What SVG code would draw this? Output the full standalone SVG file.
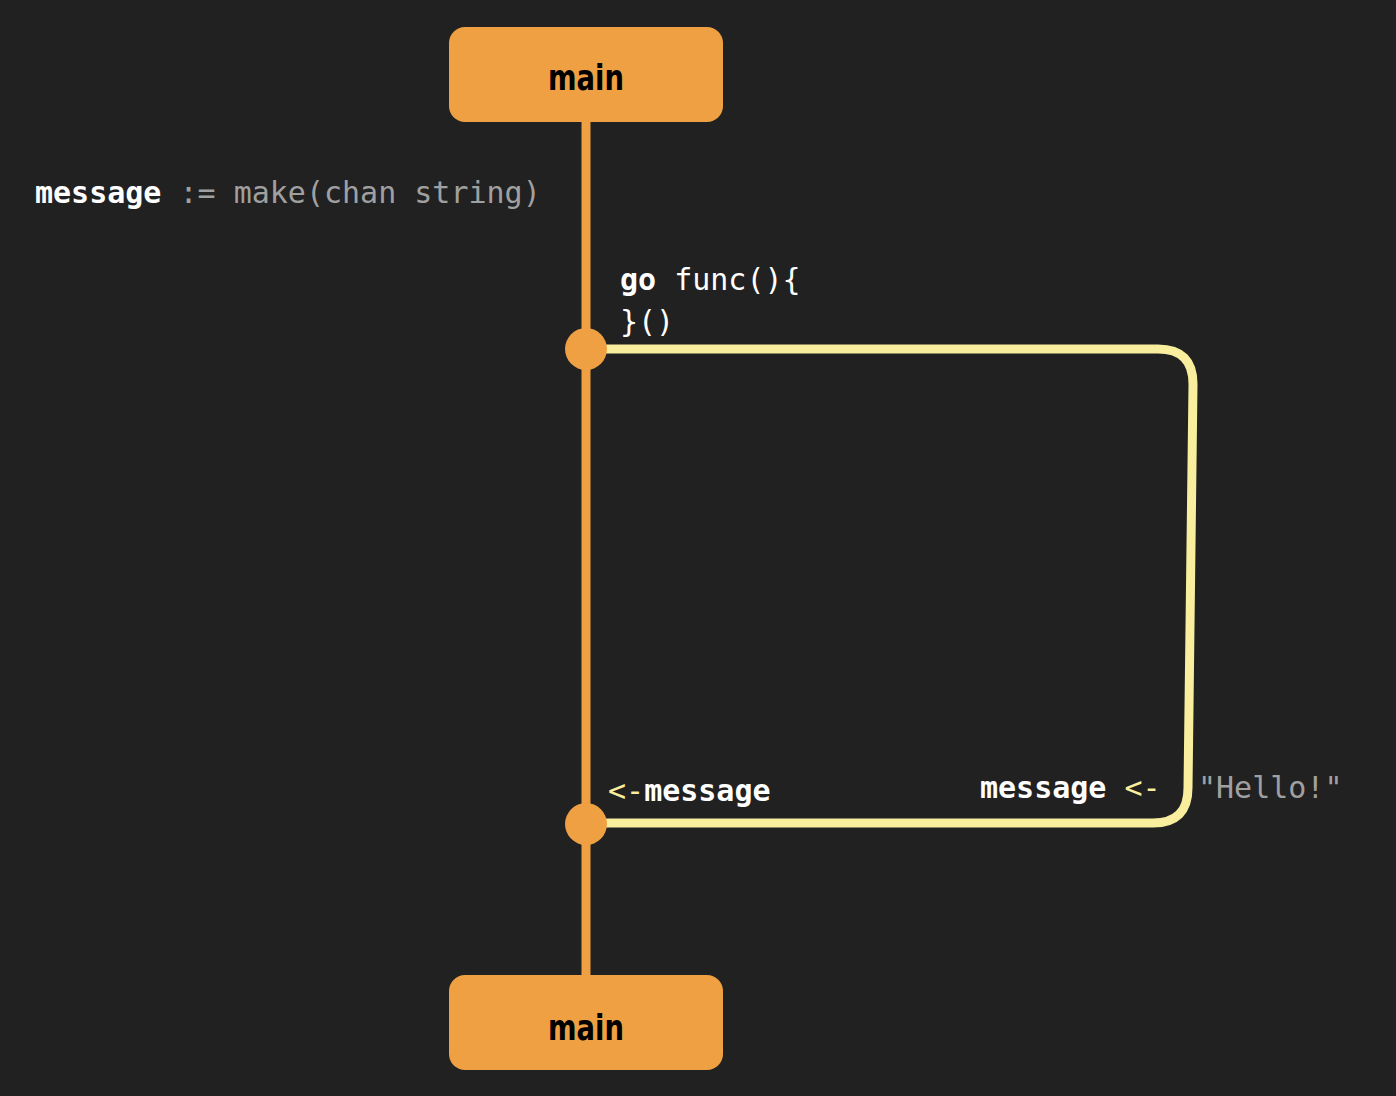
<svg xmlns="http://www.w3.org/2000/svg" width="1396" height="1096" viewBox="0 0 1396 1096">
<style>
.box{fill:#EFA043;}
.title{font-family:"DejaVu Sans","Liberation Sans",sans-serif;font-weight:bold;font-size:36px;fill:#000;text-anchor:middle;}
.code{font-family:"DejaVu Sans Mono","Liberation Mono",monospace;font-size:30px;}
.w{fill:#ffffff;}
.b{font-weight:bold;fill:#ffffff;}
.g{fill:#a0a0a0;}
.y{fill:#F8EE9E;}
.main{stroke:#EFA043;stroke-width:9;fill:none;}
.go{stroke:#F8EE9E;stroke-width:9;fill:none;}
.dot{fill:#EFA043;}
</style>
<rect width="1396" height="1096" fill="#212121"/>
<g id="connectors">
<line class="main" x1="586" y1="120" x2="586" y2="978"/>
<path class="go" d="M586,349 H1158 Q1193,349 1193,384 L1188,788 Q1188,823 1153,823 H586"/>
<circle class="dot" cx="586" cy="349" r="21"/>
<circle class="dot" cx="586" cy="824" r="21"/>
</g>
<g id="main-top">
<rect class="box" x="449" y="27" width="274" height="95" rx="16"/>
<text class="title" x="586" y="90" textLength="76" lengthAdjust="spacingAndGlyphs">main</text>
</g>
<g id="main-bottom">
<rect class="box" x="449" y="975" width="274" height="95" rx="16"/>
<text class="title" x="586" y="1040" textLength="76" lengthAdjust="spacingAndGlyphs">main</text>
</g>
<g id="labels">
<text class="code" x="35" y="203"><tspan class="b">message</tspan><tspan class="g"> := make(chan string)</tspan></text>
<text class="code" x="620" y="290"><tspan class="b">go</tspan><tspan class="w"> func(){</tspan></text>
<text class="code w" x="620" y="332">}()</text>
<text class="code" x="608" y="801"><tspan class="y">&lt;-</tspan><tspan class="b">message</tspan></text>
<text class="code" x="980" y="798"><tspan class="b">message</tspan><tspan class="y"> &lt;-</tspan></text>
<text class="code g" x="1198" y="798">"Hello!"</text>
</g>
</svg>
